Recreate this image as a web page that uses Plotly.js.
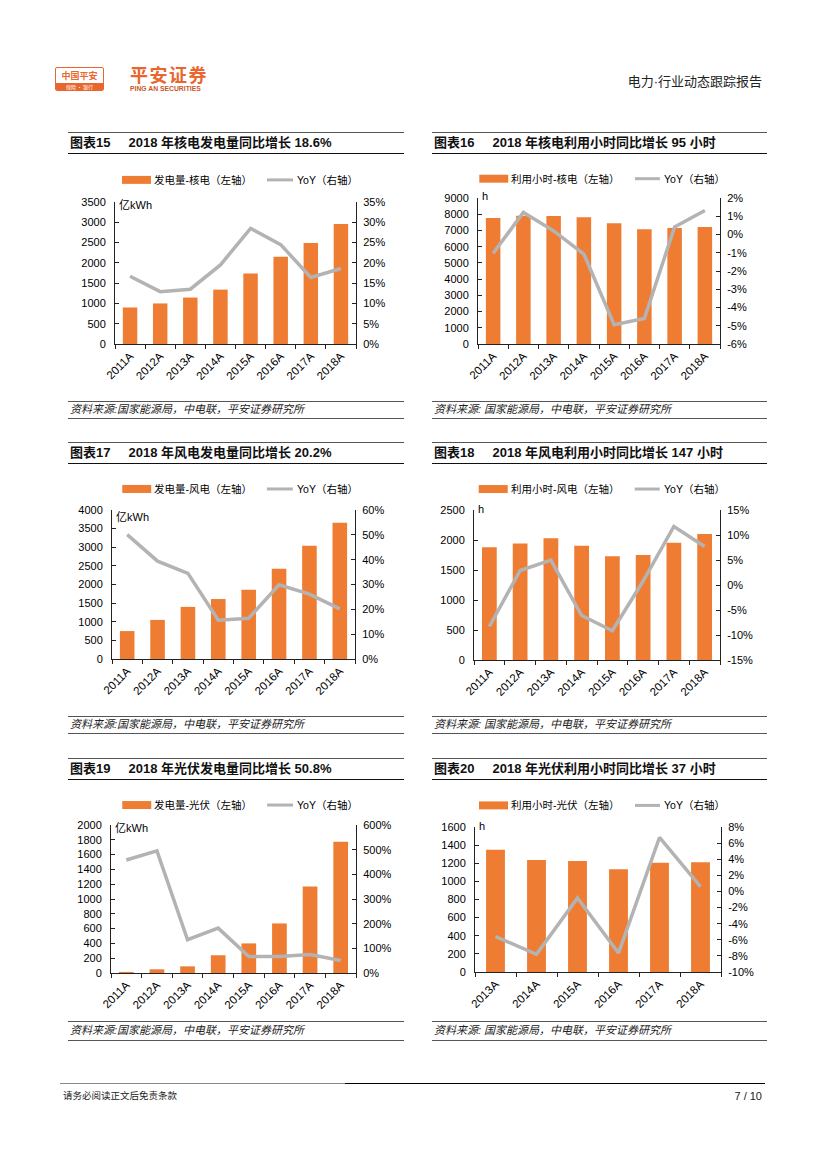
<!DOCTYPE html>
<html>
<head>
<meta charset="utf-8">
<script src="https://cdn.plot.ly/plotly-3.0.1.min.js"></script>
<style>
  body { margin: 0; background: #fff; }
  #page { position: relative; width: 827px; height: 1169px; overflow: hidden; background: #fff;
          font-family: "Liberation Sans", Arial, "Noto Sans CJK SC", sans-serif; color: #000; }
  .abs { position: absolute; white-space: nowrap; }
  .chart { position: absolute; }
  .line { position: absolute; }
</style>
</head>
<body>
<div id="page"></div>
<script>
// ---------------- DATA ----------------
const years2011to2018 = ['2011A', '2012A', '2013A', '2014A', '2015A', '2016A', '2017A', '2018A'];
const years2013to2018 = ['2013A', '2014A', '2015A', '2016A', '2017A', '2018A'];

// 图表15 核电发电量 (亿kWh) & YoY (%)
const nuclearGen    = [900, 1000, 1145, 1340, 1735, 2150, 2490, 2960];
const nuclearGenYoY = [16.7, 12.9, 13.5, 19.5, 28.5, 24.5, 16.4, 18.6];

// 图表16 核电利用小时 (h) & YoY (%)
const nuclearHours    = [7760, 7900, 7890, 7820, 7450, 7080, 7150, 7220];
const nuclearHoursYoY = [-1.03, 1.21, 0.2, -1.07, -4.94, -4.6, 0.41, 1.32];

// 图表17 风电发电量 (亿kWh) & YoY (%)
const windGen    = [750, 1050, 1400, 1610, 1860, 2420, 3040, 3660];
const windGenYoY = [50.1, 39.4, 34.5, 15.6, 16.4, 29.9, 26.1, 20.2];

// 图表18 风电利用小时 (h) & YoY (%)
const windHours    = [1880, 1940, 2030, 1905, 1730, 1750, 1955, 2100];
const windHoursYoY = [-8.3, 2.9, 4.96, -6.1, -9.15, 0.8, 11.7, 7.7];

// 图表19 光伏发电量 (亿kWh) & YoY (%)
const solarGen    = [15, 50, 90, 240, 400, 670, 1170, 1775];
const solarGenYoY = [458, 495, 135, 182, 67, 67, 75, 50.8];

// 图表20 光伏利用小时 (h) & YoY (%)
const solarHours    = [1350, 1235, 1225, 1133, 1205, 1212];
const solarHoursYoY = [-5.6, -7.8, -0.8, -7.65, 6.7, 0.6];

// tick values
const leftTicks15  = [0, 500, 1000, 1500, 2000, 2500, 3000, 3500];
const rightTicks15 = [0, 5, 10, 15, 20, 25, 30, 35];
const leftTicks16  = [0, 1000, 2000, 3000, 4000, 5000, 6000, 7000, 8000, 9000];
const rightTicks16 = [-6, -5, -4, -3, -2, -1, 0, 1, 2];
const leftTicks17  = [0, 500, 1000, 1500, 2000, 2500, 3000, 3500, 4000];
const rightTicks17 = [0, 10, 20, 30, 40, 50, 60];
const leftTicks18  = [0, 500, 1000, 1500, 2000, 2500];
const rightTicks18 = [-15, -10, -5, 0, 5, 10, 15];
const leftTicks19  = [0, 200, 400, 600, 800, 1000, 1200, 1400, 1600, 1800, 2000];
const rightTicks19 = [0, 100, 200, 300, 400, 500, 600];
const leftTicks20  = [0, 200, 400, 600, 800, 1000, 1200, 1400, 1600];
const rightTicks20 = [-10, -8, -6, -4, -2, 0, 2, 4, 6, 8];

// texts
const chartTitles = [
  '2018 年核电发电量同比增长 18.6%',
  '2018 年核电利用小时同比增长 95 小时',
  '2018 年风电发电量同比增长 20.2%',
  '2018 年风电利用小时同比增长 147 小时',
  '2018 年光伏发电量同比增长 50.8%',
  '2018 年光伏利用小时同比增长 37 小时'
];
const chartNumbers = ['图表15', '图表16', '图表17', '图表18', '图表19', '图表20'];
const barLegendNames = ['发电量-核电（左轴）', '利用小时-核电（左轴）', '发电量-风电（左轴）',
                        '利用小时-风电（左轴）', '发电量-光伏（左轴）', '利用小时-光伏（左轴）'];
const lineLegendName = 'YoY（右轴）';
const unitLabels = ['亿kWh', 'h', '亿kWh', 'h', '亿kWh', 'h'];
const sourceLeft = '资料来源:国家能源局，中电联，平安证券研究所';
const sourceRight = '资料来源: 国家能源局，中电联，平安证券研究所';

// ---------------- STYLE ----------------
const ORANGE = '#EE7D33';
const GRAY = '#B3B3B3';
const AX = '#222';
const FONT = '"Liberation Sans", Arial, "Noto Sans CJK SC", sans-serif';
const page = document.getElementById('page');

function addText(text, x, y, style) {
  const d = document.createElement('div');
  d.className = 'abs';
  d.textContent = text;
  d.style.left = x + 'px';
  d.style.top = y + 'px';
  Object.assign(d.style, style || {});
  page.appendChild(d);
  return d;
}
function addLine(x, y, w, h, color) {
  const d = document.createElement('div');
  d.className = 'line';
  d.style.left = x + 'px'; d.style.top = y + 'px';
  d.style.width = w + 'px'; d.style.height = h + 'px';
  d.style.background = color;
  page.appendChild(d);
}

// ---------------- HEADER ----------------
(function header() {
  const box = document.createElement('div');
  box.className = 'abs';
  Object.assign(box.style, { left: '55px', top: '67px', width: '47px', height: '22px',
    border: '1px solid #E9672F', borderRadius: '2px', overflow: 'hidden', background: '#fff' });
  const t = document.createElement('div');
  t.textContent = '中国平安';
  Object.assign(t.style, { position: 'absolute', left: '0', top: '2px', width: '47px', textAlign: 'center',
    fontSize: '9px', fontWeight: 'bold', color: '#E9672F', fontFamily: '"Noto Sans CJK SC", sans-serif', lineHeight: '11px' });
  const s = document.createElement('div');
  Object.assign(s.style, { position: 'absolute', left: '0', top: '15px', width: '47px', height: '7px', background: '#E9672F' });
  const st = document.createElement('div');
  st.textContent = '保险 · 银行';
  Object.assign(st.style, { position: 'absolute', left: '0', top: '0', width: '47px', textAlign: 'center',
    fontSize: '5px', color: '#fff', lineHeight: '7px', fontFamily: '"Noto Sans CJK SC", sans-serif' });
  s.appendChild(st);
  box.appendChild(t); box.appendChild(s);
  page.appendChild(box);

  addText('平安证券', 130, 63, { fontSize: '18px', fontWeight: 'bold', color: '#E9672F', letterSpacing: '1.5px',
    fontFamily: '"Noto Sans CJK SC", sans-serif', lineHeight: '22px' });
  addText('PING AN SECURITIES', 130, 84, { fontSize: '6.8px', color: '#C9572B', lineHeight: '9px', fontWeight: 'bold' });
  const r = addText('电力·行业动态跟踪报告', 0, 74, { fontSize: '13px', color: '#222', lineHeight: '16px' });
  r.style.left = ''; r.style.right = '65px';
})();

// ---------------- FOOTER ----------------
addLine(60, 1083, 285, 1, '#8a8a8a');
addLine(345, 1083, 420, 1, '#000');
addText('请务必阅读正文后免责条款', 63, 1090, { fontSize: '9.5px', color: '#222', lineHeight: '12px' });
(function () {
  const p = addText('7 / 10', 0, 1089, { fontSize: '11px', color: '#222', lineHeight: '14px' });
  p.style.left = ''; p.style.right = '65px';
})();

// ---------------- TITLE / SOURCE BARS ----------------
const colLine = [{ x: 68, w: 336 }, { x: 432, w: 335 }];
const titleRows = [{ top: 132, text: 143, bottom: 153 }, { top: 442, text: 453, bottom: 463 }, { top: 758, text: 769, bottom: 779 }];
const sourceRows = [{ top: 401, text: 409, bottom: 418 }, { top: 716, text: 724, bottom: 733 }, { top: 1021, text: 1030, bottom: 1040 }];

for (let i = 0; i < 6; i++) {
  const col = i % 2, row = Math.floor(i / 2);
  const c = colLine[col], tr = titleRows[row], sr = sourceRows[row];
  addLine(c.x, tr.top, c.w, 1, '#555');
  addLine(c.x, tr.bottom, c.w, 1, '#111');
  const t = addText('', c.x + 2, tr.text - 8, { fontSize: '13px', fontWeight: 'bold', lineHeight: '16px', color: '#111' });
  const num = document.createElement('span'); num.textContent = chartNumbers[i];
  const gap = document.createElement('span'); gap.style.display = 'inline-block'; gap.style.width = '18px';
  const tt = document.createElement('span'); tt.textContent = chartTitles[i];
  t.appendChild(num); t.appendChild(gap); t.appendChild(tt);
  addLine(c.x, sr.top, c.w, 1, '#555');
  addLine(c.x, sr.bottom, c.w, 1, '#555');
  addText(col === 0 ? sourceLeft : sourceRight, c.x + 2, sr.text - 7,
    { fontSize: '11px', fontStyle: 'italic', lineHeight: '14px', color: '#222' });
}

// ---------------- CHARTS ----------------
const pctLabels = arr => arr.map(v => v + '%');
const charts = [
  { col: 0, plotL: 115, plotR: 356, plotT: 201.7, plotB: 344.3, legY: 179.5, unitY: 205, cats: years2011to2018,
    bars: nuclearGen, yoy: nuclearGenYoY, lt: leftTicks15, rt: rightTicks15, gap: 0.52 },
  { col: 1, plotL: 477.7, plotR: 720.3, plotT: 198.3, plotB: 344.3, legY: 179, unitY: 196, cats: years2011to2018,
    bars: nuclearHours, yoy: nuclearHoursYoY, lt: leftTicks16, rt: rightTicks16, gap: 0.52 },
  { col: 0, plotL: 111.7, plotR: 355.3, plotT: 510, plotB: 658.7, legY: 489, unitY: 516.5, cats: years2011to2018,
    bars: windGen, yoy: windGenYoY, lt: leftTicks17, rt: rightTicks17, gap: 0.52 },
  { col: 1, plotL: 474.3, plotR: 720.3, plotT: 510, plotB: 660.3, legY: 489, unitY: 509, cats: years2011to2018,
    bars: windHours, yoy: windHoursYoY, lt: leftTicks18, rt: rightTicks18, gap: 0.52 },
  { col: 0, plotL: 110.7, plotR: 356, plotT: 825, plotB: 973.3, legY: 805, unitY: 828, cats: years2011to2018,
    bars: solarGen, yoy: solarGenYoY, lt: leftTicks19, rt: rightTicks19, gap: 0.52 },
  { col: 1, plotL: 475, plotR: 721, plotT: 826.7, plotB: 972.3, legY: 805, unitY: 826, cats: years2013to2018,
    bars: solarHours, yoy: solarHoursYoY, lt: leftTicks20, rt: rightTicks20, gap: 0.54 }
];

charts.forEach((c, i) => {
  const divL = c.col === 0 ? 60 : 425, divW = 350;
  const divT = Math.floor(c.plotT - 45), divB = Math.ceil(c.plotB + 55);
  const divH = divB - divT;
  const div = document.createElement('div');
  div.className = 'chart';
  div.id = 'chart' + (15 + i);
  Object.assign(div.style, { left: divL + 'px', top: divT + 'px', width: divW + 'px', height: divH + 'px' });
  page.appendChild(div);

  const W = c.plotR - c.plotL, H = c.plotB - c.plotT;
  const px = x => (x - c.plotL) / W;
  const py = y => (c.plotB - y) / H;
  const lg = c.col === 0 ? { s0: 122, s1: 151, t1: 152, l0: 267, l1: 293, t2: 295 }
                         : { s0: 479, s1: 508, t1: 509, l0: 635, l1: 660, t2: 662 };

  const traces = [
    { type: 'bar', x: c.cats, y: c.bars, marker: { color: ORANGE, line: { width: 0 } }, yaxis: 'y', hoverinfo: 'skip',
      name: barLegendNames[i] },
    { type: 'scatter', mode: 'lines', x: c.cats, y: c.yoy, yaxis: 'y2', line: { color: GRAY, width: 3.5 },
      hoverinfo: 'skip', name: lineLegendName, cliponaxis: false }
  ];

  const lmin = c.lt[0], lmax = c.lt[c.lt.length - 1];
  const rmin = c.rt[0], rmax = c.rt[c.rt.length - 1];

  const layout = {
    width: divW, height: divH,
    margin: { l: c.plotL - divL, r: divL + divW - c.plotR, t: c.plotT - divT, b: divB - c.plotB, pad: 0 },
    paper_bgcolor: 'rgba(0,0,0,0)', plot_bgcolor: 'rgba(0,0,0,0)',
    showlegend: false,
    bargap: c.gap,
    font: { family: FONT, size: 11, color: '#000' },
    xaxis: { type: 'category', tickson: 'boundaries', ticks: 'outside', ticklen: 4, tickcolor: AX, tickwidth: 1,
      showline: true, linecolor: AX, linewidth: 1, tickangle: -45, showgrid: false, zeroline: false,
      tickfont: { family: FONT, size: 11.5, color: '#000' }, fixedrange: true },
    yaxis: { range: [lmin, lmax], tickvals: c.lt, ticktext: c.lt.map(String), ticks: 'inside', ticklen: 4,
      tickcolor: AX, showline: true, linecolor: AX, linewidth: 1, showgrid: false, zeroline: false,
      ticklabelstandoff: 6, tickfont: { family: FONT, size: 11, color: '#000' }, fixedrange: true },
    yaxis2: { overlaying: 'y', side: 'right', range: [rmin, rmax], tickvals: c.rt, ticktext: pctLabels(c.rt),
      ticks: 'inside', ticklen: 4, tickcolor: AX, showline: true, linecolor: AX, linewidth: 1, showgrid: false,
      zeroline: false, ticklabelstandoff: 4, tickfont: { family: FONT, size: 11, color: '#000' }, fixedrange: true },
    shapes: [
      { type: 'rect', xref: 'paper', yref: 'paper', x0: px(lg.s0), x1: px(lg.s1), y0: py(c.legY + 4), y1: py(c.legY - 4),
        fillcolor: ORANGE, line: { width: 0 } },
      { type: 'line', xref: 'paper', yref: 'paper', x0: px(lg.l0), x1: px(lg.l1), y0: py(c.legY), y1: py(c.legY),
        line: { color: GRAY, width: 3 } }
    ],
    annotations: [
      { xref: 'paper', yref: 'paper', x: px(lg.t1), y: py(c.legY), xanchor: 'left', yanchor: 'middle',
        text: barLegendNames[i], showarrow: false, font: { family: FONT, size: 10.5, color: '#000' } },
      { xref: 'paper', yref: 'paper', x: px(lg.t2), y: py(c.legY), xanchor: 'left', yanchor: 'middle',
        text: lineLegendName, showarrow: false, font: { family: FONT, size: 10.5, color: '#000' } },
      { xref: 'paper', yref: 'paper', x: px(c.plotL + 2), y: py(c.unitY), xanchor: 'left', yanchor: 'middle',
        text: unitLabels[i], showarrow: false, font: { family: FONT, size: 11, color: '#000' } }
    ]
  };
  Plotly.newPlot(div, traces, layout, { staticPlot: true, displayModeBar: false });
});
</script>
</body>
</html>
